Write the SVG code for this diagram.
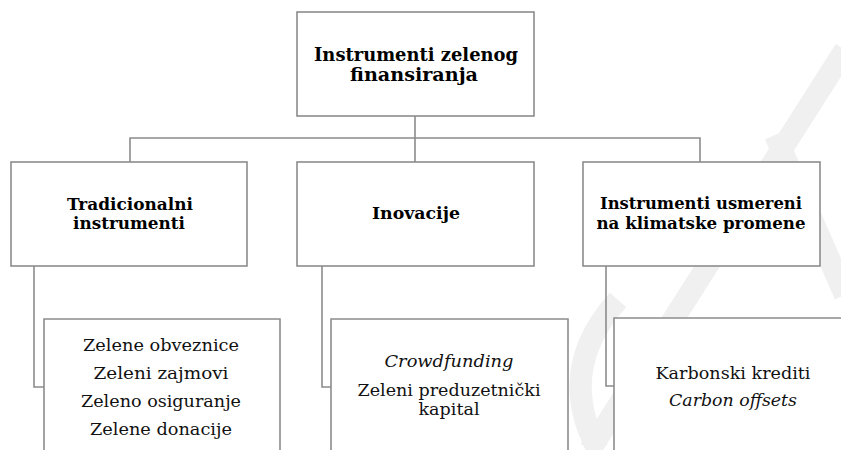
<svg xmlns="http://www.w3.org/2000/svg" width="841" height="450" viewBox="0 0 841 450">
<style>
.wm{fill:none;stroke:#f0f0f0;stroke-width:22}
.box{fill:#ffffff;stroke:#8c8c8c;stroke-width:1.6}
.con{fill:none;stroke:#8c8c8c;stroke-width:1.6}
.hb{font-weight:bold;fill:#000;text-anchor:middle}
.tx{fill:#111;text-anchor:middle;font-size:17px}
.it{font-style:italic}
</style>
<rect width="841" height="450" fill="#ffffff"/>
<g id="watermark">
<path class="wm" d="M845,50 L590,450"/>
<path class="wm" d="M775,135 L845,295"/>
<path class="wm" stroke-width="20" d="M618,300 Q555,370 598,450"/>
</g>
<g id="connectors">
<path class="con" d="M415,116 V162"/>
<path class="con" d="M130,162 V138 H700 V162"/>
<path class="con" d="M34,266 V387 H44"/>
<path class="con" d="M322,266 V387 H331"/>
<path class="con" d="M606,266 V386 H614"/>
</g>
<g font-family="DejaVu Serif, Noto Serif, Liberation Serif, Tinos, Times, serif">
<g id="root">
<rect class="box" x="297" y="12" width="237" height="104"/>
<text class="hb" font-size="19" x="416" y="61" textLength="204" lengthAdjust="spacingAndGlyphs">Instrumenti zelenog</text>
<text class="hb" font-size="19" x="414" y="81" textLength="128" lengthAdjust="spacingAndGlyphs">finansiranja</text>
</g>
<g id="tradicionalni">
<rect class="box" x="11" y="162" width="236" height="104"/>
<text class="hb" font-size="17" x="130" y="210" textLength="126" lengthAdjust="spacingAndGlyphs">Tradicionalni</text>
<text class="hb" font-size="17" x="129" y="229" textLength="112" lengthAdjust="spacingAndGlyphs">instrumenti</text>
</g>
<g id="inovacije">
<rect class="box" x="297" y="162" width="237" height="104"/>
<text class="hb" font-size="17" x="416" y="219" textLength="88" lengthAdjust="spacingAndGlyphs">Inovacije</text>
</g>
<g id="klimatske">
<rect class="box" x="583" y="162" width="237" height="104"/>
<text class="hb" font-size="17" x="701" y="209" textLength="202" lengthAdjust="spacingAndGlyphs">Instrumenti usmereni</text>
<text class="hb" font-size="17" x="701" y="229" textLength="209" lengthAdjust="spacingAndGlyphs">na klimatske promene</text>
</g>
<g id="tradicionalni-list">
<path class="box" d="M44,455 V319 H280 V455"/>
<text class="tx" x="161" y="351" textLength="156" lengthAdjust="spacingAndGlyphs">Zelene obveznice</text>
<text class="tx" x="161" y="379" textLength="135" lengthAdjust="spacingAndGlyphs">Zeleni zajmovi</text>
<text class="tx" x="161" y="407" textLength="160" lengthAdjust="spacingAndGlyphs">Zeleno osiguranje</text>
<text class="tx" x="161" y="435" textLength="142" lengthAdjust="spacingAndGlyphs">Zelene donacije</text>
</g>
<g id="inovacije-list">
<path class="box" d="M331,455 V319 H568 V455"/>
<text class="tx it" x="449" y="367" textLength="129" lengthAdjust="spacingAndGlyphs">Crowdfunding</text>
<text class="tx" x="449" y="396" textLength="183" lengthAdjust="spacingAndGlyphs">Zeleni preduzetnički</text>
<text class="tx" x="449" y="415" textLength="61" lengthAdjust="spacingAndGlyphs">kapital</text>
</g>
<g id="klimatske-list">
<path class="box" d="M614,455 V318 H850"/>
<text class="tx" x="733" y="379" textLength="155" lengthAdjust="spacingAndGlyphs">Karbonski krediti</text>
<text class="tx it" x="733" y="406" textLength="128" lengthAdjust="spacingAndGlyphs">Carbon offsets</text>
</g>
</g>
</svg>
